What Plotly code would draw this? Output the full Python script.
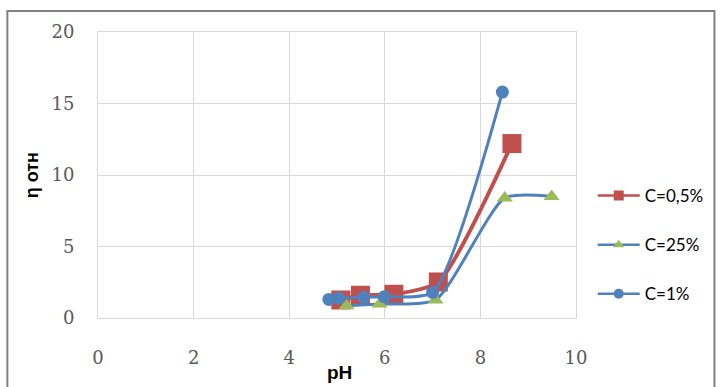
import plotly.graph_objects as go

# Data
ph_05 = [5.08, 5.49, 6.19, 7.12, 8.66]
eta_05 = [1.26, 1.59, 1.66, 2.52, 12.2]

ph_25 = [5.20, 5.89, 7.06, 8.51, 9.49]
eta_25 = [0.86, 0.98, 1.26, 8.4, 8.5]

ph_1 = [4.83, 5.04, 5.56, 5.99, 7.0, 8.46]
eta_1 = [1.3, 1.38, 1.45, 1.49, 1.79, 15.8]

names = ["C=0,5%", "C=25%", "C=1%"]
x_ticks = [0, 2, 4, 6, 8, 10]
y_ticks = [0, 5, 10, 15, 20]

RED = "#C0504D"
BLUE = "#4F81BD"
GREEN = "#9BBB59"
SMOOTH = 0.6

series = [
    (ph_05, eta_05, names[0], RED, 4, "square", 19, RED, 10),
    (ph_25, eta_25, names[1], BLUE, 3, "triangle-up", 14, GREEN, 10),
    (ph_1, eta_1, names[2], BLUE, 3, "circle", 13, BLUE, 10),
]

fig = go.Figure()
for i, (xs, ys, nm, lc, lw, sym, ms, mc, lms) in enumerate(series):
    fig.add_trace(go.Scatter(
        x=xs, y=ys, name=nm, mode="lines+markers", showlegend=False,
        line=dict(color=lc, width=lw, shape="spline", smoothing=SMOOTH),
        marker=dict(symbol=sym, size=ms, color=mc)))
# legend entries (smaller symbols, as in the reference legend)
for i, (xs, ys, nm, lc, lw, sym, ms, mc, lms) in enumerate(series):
    fig.add_trace(go.Scatter(
        x=[None], y=[None], name=nm, mode="lines+markers", legendgroup=str(i),
        line=dict(color=lc, width=2.5),
        marker=dict(symbol=sym, size=lms, color=mc)))

tickfont = dict(family="DejaVu Serif", size=18, color="#595959")
fig.update_xaxes(range=[0, 10], tickvals=x_ticks, showgrid=True, gridcolor="#D9D9D9",
                 zeroline=False, showline=True, linecolor="#D9D9D9", mirror=True,
                 tickfont=tickfont, ticks="", ticklabelstandoff=23)
fig.update_yaxes(range=[0, 20], tickvals=y_ticks, showgrid=True, gridcolor="#D9D9D9",
                 zeroline=False, showline=True, linecolor="#D9D9D9", mirror=True,
                 tickfont=tickfont, ticks="", ticklabelstandoff=19)

fig.update_layout(
    width=721, height=387,
    margin=dict(l=98, r=143, t=32, b=69),
    plot_bgcolor="white", paper_bgcolor="white",
    showlegend=True,
    legend=dict(x=1.035, y=0.255, xanchor="left", yanchor="middle",
                font=dict(family="Lato", size=17, color="#000000"),
                tracegroupgap=24, itemwidth=42,
                bgcolor="rgba(0,0,0,0)"),
    shapes=[dict(type="rect", xref="paper", yref="paper",
                 x0=-0.1896, x1=1.2896, y0=-0.26, y1=1.0734,
                 line=dict(color="#808080", width=2), fillcolor="rgba(0,0,0,0)", layer="below")],
    annotations=[
        dict(text="<b>pH</b>", xref="paper", yref="paper", x=0.505, y=-0.189,
             xanchor="center", yanchor="middle",
             showarrow=False, font=dict(family="Liberation Sans", size=19, color="#000000")),
        dict(text="<b>η отн</b>", xref="paper", yref="paper", x=-0.1375, y=0.5,
             xanchor="center", yanchor="middle",
             textangle=-90, showarrow=False,
             font=dict(family="Liberation Sans", size=18, color="#000000")),
    ],
)

fig.write_html("out.html", config={"displayModeBar": False},
               post_script="document.body.style.margin='0';")
